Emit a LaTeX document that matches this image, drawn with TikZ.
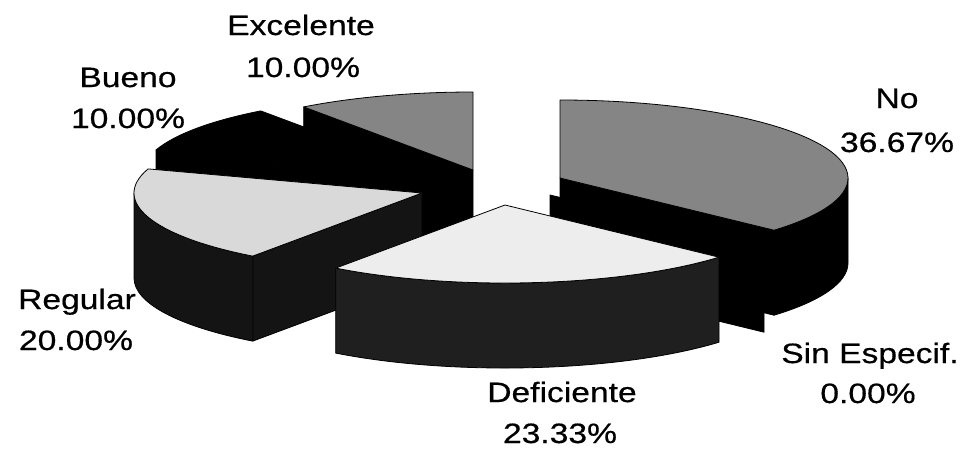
\documentclass[tikz,border=0pt]{standalone}
\usepackage{fontspec}
\newfontfamily\labfont[FakeStretch=1.2,FakeBold=0.5]{Liberation Sans}
\begin{document}
\begin{tikzpicture}[x=1pt,y=1pt,
  edge/.style={draw=black, line width=0.8pt, line join=round},
  topgray/.style={edge, fill=black!48},
  toplight/.style={edge, fill=black!15},
  toppale/.style={edge, fill=black!7},
  topdark/.style={edge, fill=black},
  sideblack/.style={edge, fill=black},
  sidereg/.style={edge, fill=black!92},
  sidedef/.style={edge, fill=black!88},
  lab/.style={font=\labfont\fontsize{28}{34}\selectfont, anchor=base, inner sep=0pt}]
\def\ra{288}\def\rb{78}\def\hh{85}
\newcommand\ptop[4]{\path[#4] (#1) -- ([shift={(#1)}]#2:\ra pt and \rb pt) arc[start angle=#2,end angle=#3,x radius=\ra pt,y radius=\rb pt] -- cycle;}
\newcommand\pside[4]{\path[#4] ([shift={(#1)}]#2:\ra pt and \rb pt) arc[start angle=#2,end angle=#3,x radius=\ra pt,y radius=\rb pt] -- ++(0,-\hh) arc[start angle=#3,end angle=#2,x radius=\ra pt,y radius=\rb pt] -- cycle;}
\newcommand\pface[3]{\path[#3] (#1) -- ([shift={(#1)}]#2:\ra pt and \rb pt) -- ++(0,-\hh) -- ([shift={(#1)}]0,-\hh) -- cycle;}
\fill[white] (0,0) rectangle (968,-456);
\useasboundingbox (0,0) rectangle (968,-456);
% slice centres
\coordinate (cBue) at (430,-174);
\coordinate (cExc) at (473,-170);
\coordinate (cNo)  at (560,-178);
\coordinate (cSin) at (550,-195);
\coordinate (cReg) at (422,-193);
\coordinate (cDef) at (505,-205);
% Bueno 10%
\pface{cBue}{162}{sideblack}
\ptop{cBue}{126}{162}{topdark}
% Excelente 10%
\pface{cExc}{126}{sideblack}
\ptop{cExc}{90}{126}{topgray}
% No 36.67%
\pface{cNo}{-42}{sideblack}
\pside{cNo}{-42}{0}{sideblack}
\ptop{cNo}{-42}{90}{topgray}
% Sin Especif. 0%
\pface{cSin}{-42}{sideblack}
% Regular 20%
\pface{cReg}{234}{sidereg}
\pside{cReg}{180}{234}{sidereg}
\ptop{cReg}{162}{234}{toplight}
% Deficiente 23.33%
\pside{cDef}{-126}{-42}{sidedef}
\ptop{cDef}{-126}{-42}{toppale}
% labels
\node[lab] (lExc1) at (301,-35) {Excelente};
\node[lab] (lExc2) at (303,-77) {10.00\%};
\node[lab] (lBue1) at (128,-87) {Bueno};
\node[lab] (lBue2) at (128,-128) {10.00\%};
\node[lab] (lNo1) at (897,-108) {No};
\node[lab] (lNo2) at (897,-152) {36.67\%};
\node[lab] (lReg1) at (77,-309) {Regular};
\node[lab] (lReg2) at (76,-350) {20.00\%};
\node[lab] (lDef1) at (562,-402) {Deficiente};
\node[lab] (lDef2) at (560,-443) {23.33\%};
\node[lab] (lSin1) at (870,-363) {Sin Especif.};
\node[lab] (lSin2) at (868,-403) {0.00\%};
\end{tikzpicture}
\end{document}
